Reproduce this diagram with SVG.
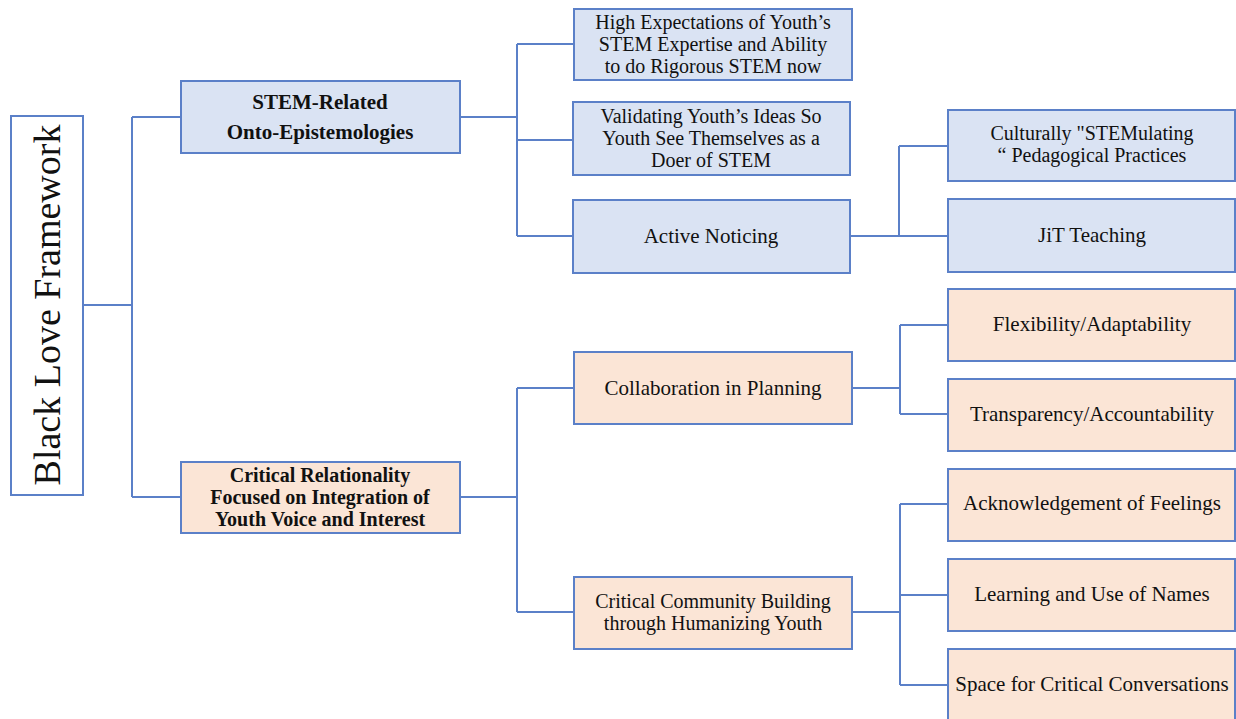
<svg xmlns="http://www.w3.org/2000/svg" width="1236" height="719" viewBox="0 0 1236 719">
<style>
.b{fill:#dae3f3;stroke:#5b80c8;stroke-width:2}
.p{fill:#fbe5d6;stroke:#5b80c8;stroke-width:2}
.r{fill:#ffffff;stroke:#5b80c8;stroke-width:2}
.t{font-family:"Liberation Serif","Times New Roman",serif;font-size:21px;fill:#111;text-anchor:middle}
.m{font-size:20px}
.bd{font-weight:bold}
.c{fill:none;stroke:#5b80c8;stroke-width:2}
</style>
<rect width="1236" height="719" fill="#ffffff"/>
<g id="connectors">
<path class="c" d="M83 305H132M132 117V497M132 117H181M132 497H181"/>
<path class="c" d="M460 117H517M517 44V236M517 44H574M517 140H573M517 236H573"/>
<path class="c" d="M850 236H899M899 146V236M899 146H948M899 236H948"/>
<path class="c" d="M460 497H517M517 388V612M517 388H574M517 612H574"/>
<path class="c" d="M852 388H900M900 325V414M900 325H948M900 414H948"/>
<path class="c" d="M852 612H900M900 504V685M900 504H948M900 595H948M900 685H948"/>
</g>
<g id="root">
<rect class="r" x="11" y="116" width="72" height="379"/>
<text class="t" style="font-size:38px" transform="translate(60 305) rotate(-90)" x="0" y="0">Black Love Framework</text>
</g>
<g id="stem">
<rect class="b" x="181" y="81" width="279" height="72"/>
<text class="t bd" x="320" y="109">STEM-Related</text>
<text class="t bd" x="320" y="139">Onto-Epistemologies</text>
</g>
<g id="high">
<rect class="b" x="574" y="9" width="278" height="71"/>
<text class="t m" x="713" y="29">High Expectations of Youth’s</text>
<text class="t m" x="713" y="51">STEM Expertise and Ability</text>
<text class="t m" x="713" y="73">to do Rigorous STEM now</text>
</g>
<g id="validating">
<rect class="b" x="573" y="102" width="277" height="73"/>
<text class="t m" x="711" y="123">Validating Youth’s Ideas So</text>
<text class="t m" x="711" y="145">Youth See Themselves as a</text>
<text class="t m" x="711" y="167">Doer of STEM</text>
</g>
<g id="active">
<rect class="b" x="573" y="200" width="277" height="73"/>
<text class="t" x="711" y="243">Active Noticing</text>
</g>
<g id="culturally">
<rect class="b" x="948" y="110" width="287" height="71"/>
<text class="t m" x="1092" y="140">Culturally "STEMulating</text>
<text class="t m" x="1092" y="162">“ Pedagogical Practices</text>
</g>
<g id="jit">
<rect class="b" x="948" y="199" width="287" height="73"/>
<text class="t" x="1092" y="242">JiT Teaching</text>
</g>
<g id="critical">
<rect class="p" x="181" y="462" width="279" height="71"/>
<text class="t m bd" x="320" y="482">Critical Relationality</text>
<text class="t m bd" x="320" y="504">Focused on Integration of</text>
<text class="t m bd" x="320" y="526">Youth Voice and Interest</text>
</g>
<g id="collab">
<rect class="p" x="574" y="352" width="278" height="72"/>
<text class="t" x="713" y="395">Collaboration in Planning</text>
</g>
<g id="flex">
<rect class="p" x="948" y="289" width="287" height="72"/>
<text class="t" x="1092" y="331">Flexibility/Adaptability</text>
</g>
<g id="trans">
<rect class="p" x="948" y="379" width="287" height="72"/>
<text class="t" x="1092" y="421">Transparency/Accountability</text>
</g>
<g id="community">
<rect class="p" x="574" y="577" width="278" height="72"/>
<text class="t m" x="713" y="608">Critical Community Building</text>
<text class="t m" x="713" y="630">through Humanizing Youth</text>
</g>
<g id="ack">
<rect class="p" x="948" y="469" width="287" height="72"/>
<text class="t" x="1092" y="510">Acknowledgement of Feelings</text>
</g>
<g id="names">
<rect class="p" x="948" y="559" width="287" height="72"/>
<text class="t" x="1092" y="601">Learning and Use of Names</text>
</g>
<g id="space">
<rect class="p" x="948" y="649" width="287" height="80"/>
<text class="t" x="1092" y="691">Space for Critical Conversations</text>
</g>
</svg>
